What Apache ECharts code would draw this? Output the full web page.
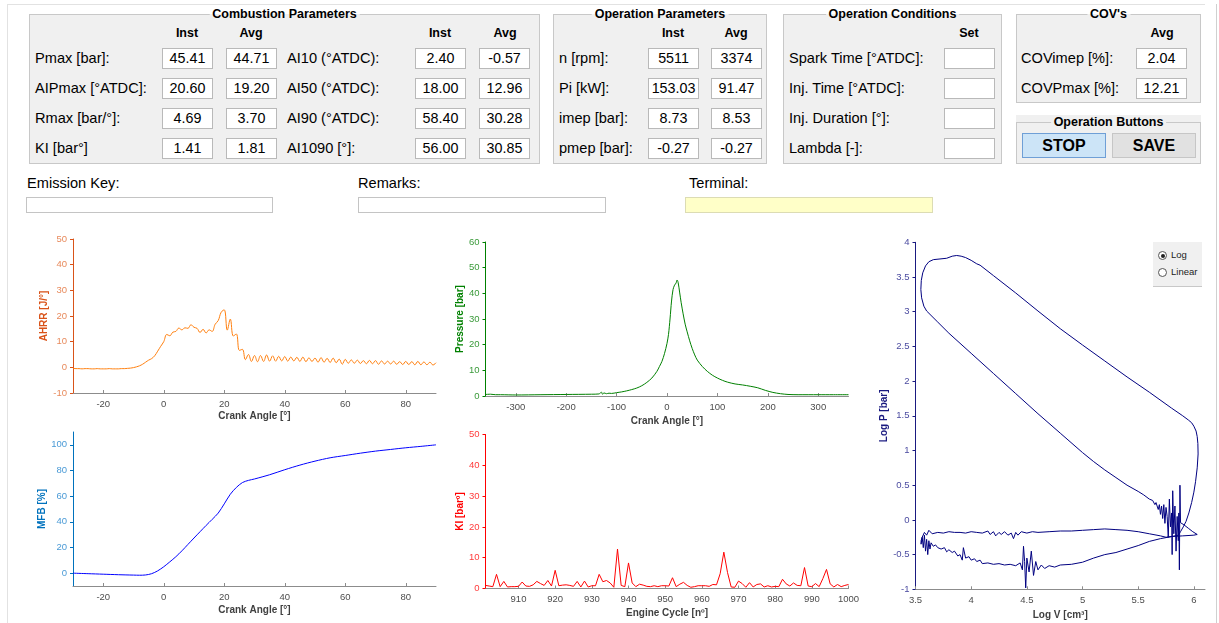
<!DOCTYPE html>
<html>
<head>
<meta charset="utf-8">
<title>Engine Monitor</title>
<script src="https://cdn.jsdelivr.net/npm/echarts@6/dist/echarts.min.js"></script>
<style>
body { margin: 0; width: 1219px; height: 623px; background: #fff; overflow: hidden; position: relative;
  font-family: "Liberation Sans", Arial, sans-serif; color: #000; }
.line { position: absolute; background: #e2e2e2; }
.panel { position: absolute; background: #f0f0f0; border: 1px solid #c8c8c8; box-sizing: border-box; }
.ptitle { position: absolute; font-weight: bold; font-size: 12.5px; line-height: 14px; padding: 0 3px;
  transform: translateX(-50%); background: linear-gradient(#fff 50%, #f0f0f0 50%); white-space: nowrap; }
.lbl { position: absolute; font-size: 14.6px; line-height: 20px; white-space: nowrap; }
.hdr { position: absolute; font-weight: bold; font-size: 12.5px; line-height: 16px; transform: translateX(-50%); }
.box { position: absolute; width: 51px; height: 21px; background: #fff; border: 1px solid #b9b9b9; box-sizing: border-box;
  font-size: 14.3px; line-height: 19px; text-align: center; }
.field { position: absolute; height: 16px; background: #fff; border: 1px solid #c4c4c4; box-sizing: border-box; }
.btn { position: absolute; height: 25px; box-sizing: border-box; font-weight: bold; font-size: 16px; line-height: 23px; text-align: center; }
#plots { position: absolute; left: 0; top: 225px; width: 1219px; height: 398px; }
#scaleBox { position: absolute; left: 1153px; top: 242px; width: 49px; height: 45px; background: #f0f0f0;
  border-bottom: 1px solid #c8c8c8; box-sizing: border-box; font-size: 9.5px; z-index: 5; }
.radio { position: absolute; left: 5px; width: 9px; height: 9px; border: 1px solid #555; border-radius: 50%; background: #fff; box-sizing: border-box; }
.radio.on::after { content: ""; position: absolute; left: 1.5px; top: 1.5px; width: 4px; height: 4px; border-radius: 50%; background: #222; }
.rtext { position: absolute; left: 18px; line-height: 12px; color: #222; }
</style>
</head>
<body>
<div class="line" style="left:7px; top:4px; width:1198px; height:1px;"></div>
<div class="line" style="left:7px; top:4px; width:1px; height:619px;"></div>
<div class="line" style="left:1216px; top:4px; width:1px; height:619px; background:#d0d0d0;"></div>
<div id="plots"></div>
<div id="scaleBox">
  <div class="radio on" style="top:9px;"></div><div class="rtext" style="top:7px;">Log</div>
  <div class="radio" style="top:26px;"></div><div class="rtext" style="top:24px;">Linear</div>
</div>
<script>
// ---- panel text ----
const rowY = [58, 88, 118, 148]
const combLabels1 = ['Pmax [bar]:', 'AIPmax [°ATDC]:', 'Rmax [bar/°]:', 'KI [bar°]']
const combInst1 = ['45.41', '20.60', '4.69', '1.41']
const combAvg1 = ['44.71', '19.20', '3.70', '1.81']
const combLabels2 = ['AI10 (°ATDC):', 'AI50 (°ATDC):', 'AI90 (°ATDC):', 'AI1090 [°]:']
const combInst2 = ['2.40', '18.00', '58.40', '56.00']
const combAvg2 = ['-0.57', '12.96', '30.28', '30.85']
const opLabels = ['n [rpm]:', 'Pi [kW]:', 'imep [bar]:', 'pmep [bar]:']
const opInst = ['5511', '153.03', '8.73', '-0.27']
const opAvg = ['3374', '91.47', '8.53', '-0.27']
const condLabels = ['Spark Time [°ATDC]:', 'Inj. Time [°ATDC]:', 'Inj. Duration [°]:', 'Lambda [-]:']
const covLabels = ['COVimep [%]:', 'COVPmax [%]:']
const covAvg = ['2.04', '12.21']

// ---- chart data ----
// AHRR sampled every 1° from -30 to 90
const ahrrAngle = Array.from({ length: 121 }, (_, i) => i - 30)
const ahrrValue = [
  -0.4, -0.5, -0.5, -0.6, -0.5, -0.5, -0.6, -0.6, -0.5, -0.6, -0.6, -0.6, -0.5, -0.6, -0.6, -0.6, -0.5, -0.5, -0.4, -0.3,
  -0.1, 0.2, 0.6, 1.2, 2.0, 2.8, 3.4, 4.5, 6.3, 8.2,
  10.0, 12.8, 12.3, 13.7, 14.0, 15.3, 14.6, 15.4, 15.2, 16.6,
  15.6, 15.2, 13.6, 14.8, 13.4, 14.6, 14.0, 16.8, 18.2, 21.5,
  22.4, 14.5, 18.8, 12.2, 13.0, 6.6, 7.0, 3.0, 5.0, 2.3,
  4.6, 2.2, 4.6, 2.3, 4.8, 2.4, 4.5, 2.4, 4.3, 2.5,
  4.2, 2.4, 4.0, 2.5, 3.9, 2.3, 4.0, 2.2, 3.7, 2.3,
  3.6, 2.0, 3.8, 2.0, 3.5, 1.9, 3.6, 1.8, 3.2, 1.2,
  3.1, 1.6, 2.9, 1.6, 2.8, 1.5, 2.6, 1.4, 2.7, 1.4,
  2.6, 1.2, 2.5, 1.3, 2.4, 1.3, 2.4, 1.2, 2.2, 1.1,
  2.3, 1.1, 2.2, 1.0, 2.3, 1.0, 2.1, 1.0, 2.0, 0.9,
  1.8
]
const mfbAngle = [-30, -25, -20, -15, -10, -8, -6, -4, -2, 0, 2, 4, 6, 8, 10, 12, 14, 16, 18, 20, 22, 24, 26, 28, 30,
  35, 40, 45, 50, 55, 60, 65, 70, 75, 80, 85, 90]
const mfbValue = [0, -0.4, -0.8, -1.2, -1.5, -1.6, -1.4, -0.4, 1.8, 5.0, 8.8, 12.8, 17.4, 22.4, 27.4, 32.3, 37.2, 41.9, 46.8,
  54.0, 61.5, 66.8, 70.6, 72.3, 73.4, 76.7, 80.6, 84.2, 87.3, 89.9, 91.7, 93.5, 95.1, 96.4, 97.7, 98.8, 100]
const pressAngle = [-360, -350, -340, -330, -300, -250, -200, -150, -135, -130, -128, -125, -120, -115, -110, -100, -90, -80,
  -70, -60, -50, -40, -30, -20, -15, -10, -5, 0, 3, 6, 9, 12, 15, 18, 20, 22, 25, 28, 32, 36, 40, 45, 50, 55, 60, 70, 80,
  90, 100, 110, 120, 135, 150, 165, 180, 195, 210, 225, 240, 260, 300, 330, 360]
const pressValue = [0.6, 0.7, 0.5, 0.5, 0.4, 0.5, 0.6, 0.7, 0.8, 1.5, 0.7, 1.2, 0.9, 1.1, 1.0, 1.3, 1.6, 2.0,
  2.5, 3.1, 4.0, 5.3, 7.0, 9.6, 11.5, 13.5, 16.5, 20.5, 24.0, 30.0, 37.0, 41.5, 43.2, 44.0, 45.2, 44.3, 40.5, 36.5, 32.0, 28.0,
  25.0, 21.5, 18.5, 16.0, 14.0, 11.5, 9.6, 8.1, 7.0, 6.1, 5.4, 4.7, 4.3, 3.8, 3.2, 2.2, 1.4, 0.9, 0.6, 0.5, 0.5, 0.5, 0.5]
// knock intensity per engine cycle 901..1000
const kiCycle = Array.from({ length: 100 }, (_, i) => 901 + i)
const kiValue = [
  1.0, 0.8, 0.6, 4.6, 0.6, 2.3, 0.5, 0.6, 0.6, 0.7,
  2.1, 0.8, 0.7, 1.2, 2.3, 1.6, 1.0, 2.6, 0.8, 5.9,
  0.9, 1.1, 1.2, 1.0, 0.7, 2.3, 0.5, 2.4, 0.5, 0.9,
  0.9, 4.6, 2.2, 2.6, 1.8, 0.4, 12.8, 1.0, 0.6, 8.3,
  1.8, 0.6, 1.4, 1.1, 0.7, 0.6, 0.9, 0.6, 0.9, 0.9,
  0.8, 3.5, 0.6, 1.4, 2.0, 1.0, 0.4, 0.6, 0.9, 0.9,
  0.9, 0.7, 1.3, 1.2, 4.8, 11.8, 5.2, 0.5, 0.4, 2.4,
  1.6, 0.4, 1.9, 0.5, 1.3, 1.5, 0.5, 0.9, 0.5, 0.7,
  0.6, 3.0, 1.5, 0.8, 1.8, 1.0, 0.9, 6.8, 0.8, 0.6,
  1.6, 0.6, 3.2, 6.2, 1.5, 0.5, 1.3, 0.6, 1.0, 1.3
]
// log P - log V loop: compression, combustion, expansion, blowdown, exhaust, intake
const logV = [
  6.03, 5.99, 5.95, 5.91, 5.88,
  5.875, 5.87, 5.865, 5.86, 5.85, 5.84, 5.83, 5.82, 5.81, 5.805, 5.8, 5.79, 5.78, 5.77, 5.76, 5.75, 5.74, 5.73, 5.72, 5.71,
  5.7, 5.69, 5.68, 5.66, 5.65, 5.63,
  5.6, 5.55, 5.5, 5.4, 5.3, 5.2, 5.1, 5.0, 4.8, 4.6, 4.4, 4.2, 4.0, 3.8, 3.7, 3.6,
  3.575, 3.555, 3.548, 3.552, 3.565, 3.59, 3.62, 3.66, 3.72, 3.78, 3.83, 3.87, 3.91, 3.95, 4.0, 4.05, 4.08,
  4.2, 4.4, 4.6, 4.8, 5.0, 5.2, 5.4, 5.6, 5.8, 5.9, 5.95, 5.98, 6.0, 6.02, 6.03,
  6.036, 6.038, 6.03, 6.015, 6.0, 5.98, 5.955, 5.93, 5.905, 5.88, 5.86,
  5.8, 5.75, 5.7, 5.6, 5.5, 5.4, 5.3, 5.2, 5.1, 5.0, 4.9, 4.8, 4.7, 4.6, 4.55, 4.5, 4.45, 4.42, 4.4, 4.38, 4.36, 4.33,
  4.3, 4.27, 4.25, 4.22, 4.2, 4.17, 4.15, 4.1, 4.05, 4.0, 3.95, 3.9, 3.85, 3.8, 3.75, 3.7, 3.65, 3.62, 3.6, 3.58, 3.56,
  3.55, 3.55,
  3.56, 3.57, 3.58, 3.59, 3.6, 3.61, 3.62, 3.63, 3.64, 3.66, 3.68, 3.7, 3.73, 3.76, 3.78, 3.8, 3.83, 3.85, 3.88, 3.9,
  3.92, 3.93, 3.95, 3.98, 4.0, 4.03, 4.05, 4.08, 4.1, 4.15, 4.2, 4.25, 4.3, 4.35, 4.4, 4.44, 4.46, 4.47, 4.48, 4.49,
  4.5, 4.52, 4.54, 4.56, 4.58, 4.6, 4.63, 4.66, 4.7, 4.75, 4.8, 4.9, 5.0, 5.1, 5.2, 5.3, 5.4, 5.5, 5.6, 5.7, 5.8, 5.9,
  6.0, 6.03
]
const logP = [
  -0.21, -0.17, -0.12, -0.07, -0.04,
  0.5, -0.72, 0.1, -0.3, 0.05, -0.45, 0.2, -0.2, 0.42, -0.5, 0.1, -0.1, 0.3, -0.25, 0.05, 0.18, -0.05, 0.22, 0.02, 0.2,
  0.08, 0.22, 0.15, 0.25, 0.22, 0.28,
  0.3, 0.36, 0.41, 0.5, 0.61, 0.72, 0.84, 0.97, 1.25, 1.53, 1.82, 2.11, 2.4, 2.69, 2.85, 3.01,
  3.08, 3.2, 3.32, 3.45, 3.56, 3.66, 3.72, 3.75, 3.76, 3.77, 3.8, 3.81, 3.8, 3.78, 3.74, 3.69, 3.67,
  3.52, 3.27, 3.01, 2.755, 2.52, 2.29, 2.06, 1.84, 1.61, 1.5, 1.44, 1.4, 1.35, 1.28, 1.2,
  1.1, 0.95, 0.75, 0.55, 0.4, 0.25, 0.1, -0.02, -0.1, -0.17, -0.22,
  -0.24, -0.25, -0.23, -0.2, -0.17, -0.15, -0.14, -0.13, -0.14, -0.15, -0.16, -0.16, -0.17, -0.18, -0.17, -0.19, -0.17,
  -0.22, -0.18, -0.27, -0.19, -0.22,
  -0.17, -0.21, -0.18, -0.23, -0.17, -0.21, -0.16, -0.19, -0.18, -0.17, -0.19, -0.18, -0.18, -0.17, -0.19, -0.18, -0.2,
  -0.15, -0.22, -0.18, -0.25,
  -0.3, -0.35,
  -0.25, -0.4, -0.22, -0.45, -0.28, -0.5, -0.3, -0.42, -0.33, -0.38, -0.36, -0.4, -0.42, -0.4, -0.46, -0.43, -0.47, -0.45,
  -0.52, -0.5,
  -0.58, -0.4, -0.55, -0.53, -0.58, -0.56, -0.6, -0.58, -0.63, -0.62, -0.64, -0.63, -0.65, -0.64, -0.66, -0.62, -0.72,
  -0.38, -0.6, -0.98,
  -0.55, -0.75, -0.45, -0.8, -0.6, -0.72, -0.65, -0.7, -0.66, -0.68, -0.65, -0.64, -0.61, -0.55, -0.5, -0.47, -0.42,
  -0.37, -0.31, -0.27, -0.24, -0.23,
  -0.22, -0.21
]

// ---- build the panels ----
function put(cls, x, y, text, style) {
  const d = document.createElement('div')
  d.className = cls
  d.style.left = x + 'px'
  d.style.top = y + 'px'
  if (style) Object.assign(d.style, style)
  if (text != null) d.textContent = text
  document.body.appendChild(d)
  return d
}
function panel(x1, y1, x2, y2, title) {
  put('panel', x1, y1, null, { width: (x2 - x1) + 'px', height: (y2 - y1) + 'px' })
  put('ptitle', (x1 + x2) / 2, y1 - 7, title)
}

panel(29, 14, 540, 164, 'Combustion Parameters')
panel(553, 14, 767, 164, 'Operation Parameters')
panel(783, 14, 1002, 164, 'Operation Conditions')
panel(1016, 14, 1201, 103, "COV's")
// the buttons panel has its title inside the grey area
put('panel', 1016, 115, null, { width: '185px', height: '49px', border: 'none' })
put('panel', 1016, 122, null, { width: '185px', height: '42px' })
put('ptitle', 1108.5, 115, 'Operation Buttons', { background: '#f0f0f0' })

put('hdr', 187, 25, 'Inst'); put('hdr', 251, 25, 'Avg')
put('hdr', 440, 25, 'Inst'); put('hdr', 505, 25, 'Avg')
put('hdr', 673, 25, 'Inst'); put('hdr', 736, 25, 'Avg')
put('hdr', 969, 25, 'Set')
put('hdr', 1162, 25, 'Avg')

rowY.forEach((y, i) => {
  put('lbl', 35, y - 10, combLabels1[i])
  put('box', 162, y - 10, combInst1[i])
  put('box', 226, y - 10, combAvg1[i])
  put('lbl', 287, y - 10, combLabels2[i])
  put('box', 415, y - 10, combInst2[i])
  put('box', 479, y - 10, combAvg2[i])
  put('lbl', 559, y - 10, opLabels[i])
  put('box', 648, y - 10, opInst[i])
  put('box', 711, y - 10, opAvg[i])
  put('lbl', 789, y - 10, condLabels[i])
  put('box', 944, y - 10, '')
  if (i < 2) {
    put('lbl', 1021, y - 10, covLabels[i])
    put('box', 1136, y - 10, covAvg[i])
  }
})

put('btn', 1022, 133, 'STOP', { width: '84px', background: '#cce4f7', border: '1px solid #6f9fd6' })
put('btn', 1112, 133, 'SAVE', { width: '84px', background: '#e1e1e1', border: '1px solid #c6c6c6' })

put('lbl', 27, 173, 'Emission Key:')
put('lbl', 358, 173, 'Remarks:')
put('lbl', 689, 173, 'Terminal:')
put('field', 26, 197, null, { width: '247px' })
put('field', 358, 197, null, { width: '248px' })
put('field', 685, 197, null, { width: '248px', background: '#ffffc8', borderColor: '#dcdcb4' })

// ---- charts ----
const grids = [
  { left: 73, top: 14, width: 363, height: 154 },
  { left: 73, top: 207, width: 363, height: 154 },
  { left: 485.5, top: 17, width: 363, height: 154 },
  { left: 485.5, top: 209.5, width: 363, height: 154 },
  { left: 915.5, top: 17.3, width: 289.5, height: 347 }
]
grids.forEach(g => { g.containLabel = false; g.outerBoundsMode = 'none' })

function xAxis(gi, min, max, ticks, name, gap) {
  return {
    gridIndex: gi, type: 'value', min: min, max: max,
    name: name, nameLocation: 'middle', nameGap: gap,
    nameTextStyle: { color: '#404040', fontWeight: 'bold', fontSize: 10 },
    axisLine: { show: true, onZero: false, lineStyle: { color: '#8c8c8c', width: 1 } },
    axisTick: { show: true, inside: true, length: 3, customValues: ticks, lineStyle: { color: '#8c8c8c' } },
    axisLabel: { color: '#4d4d4d', fontSize: 9.5, margin: 6, customValues: ticks, formatter: v => String(v) },
    splitLine: { show: false }
  }
}
function yAxis(gi, min, max, interval, ticks, name, gap, lineColor, labelColor) {
  const ax = {
    gridIndex: gi, type: 'value', min: min, max: max,
    name: name, nameLocation: 'middle', nameGap: gap, nameRotate: 90,
    nameTextStyle: { color: lineColor, fontWeight: 'bold', fontSize: 10 },
    axisLine: { show: true, onZero: false, lineStyle: { color: lineColor, width: 1 } },
    axisTick: { show: true, length: 3, lineStyle: { color: lineColor } },
    axisLabel: { color: labelColor, fontSize: 9.5, margin: 6 },
    splitLine: { show: false }
  }
  if (interval) ax.interval = interval
  if (ticks) { ax.axisTick.customValues = ticks; ax.axisLabel.customValues = ticks }
  return ax
}
function pairs(xs, ys) { return xs.map((x, i) => [x, ys[i]]) }

const chart = echarts.init(document.getElementById('plots'))
chart.setOption({
  animation: false,
  textStyle: { fontFamily: 'Liberation Sans, Arial, sans-serif' },
  grid: grids,
  xAxis: [
    xAxis(0, -30, 90, [-20, 0, 20, 40, 60, 80], 'Crank Angle [°]', 18),
    xAxis(1, -30, 90, [-20, 0, 20, 40, 60, 80], 'Crank Angle [°]', 19),
    xAxis(2, -360, 360, [-300, -200, -100, 0, 100, 200, 300], 'Crank Angle [°]', 20),
    xAxis(3, 901, 1000, [910, 920, 930, 940, 950, 960, 970, 980, 990, 1000], 'Engine Cycle [nº]', 20),
    xAxis(4, 3.5, 6.1, [3.5, 4, 4.5, 5, 5.5, 6], 'Log V [cm³]', 20)
  ],
  yAxis: [
    yAxis(0, -10, 50, 10, null, 'AHRR [J/°]', 17, '#d95319', '#e88a5c'),
    yAxis(1, -10, 110, null, [0, 20, 40, 60, 80, 100], 'MFB [%]', 19, '#0072bd', '#4a9ad6'),
    yAxis(2, 0, 60, 10, null, 'Pressure [bar]', 15, '#008000', '#3a9a3a'),
    yAxis(3, 0, 50, 10, null, 'KI [barº]', 15, '#ff0000', '#ff3b3b'),
    yAxis(4, -1, 4, 0.5, null, 'Log P [bar]', 20, '#1a1a80', '#4b4ba0')
  ],
  series: [
    { type: 'line', xAxisIndex: 0, yAxisIndex: 0, data: pairs(ahrrAngle, ahrrValue), symbol: 'none', smooth: 0.4,
      lineStyle: { color: '#ff7f0e', width: 1 } },
    { type: 'line', xAxisIndex: 1, yAxisIndex: 1, data: pairs(mfbAngle, mfbValue), symbol: 'none', smooth: 0.3,
      lineStyle: { color: '#0000ff', width: 1 } },
    { type: 'line', xAxisIndex: 2, yAxisIndex: 2, data: pairs(pressAngle, pressValue), symbol: 'none', smooth: 0.3,
      lineStyle: { color: '#008000', width: 1 } },
    { type: 'line', xAxisIndex: 3, yAxisIndex: 3, data: pairs(kiCycle, kiValue), symbol: 'none',
      lineStyle: { color: '#ff0000', width: 1 } },
    { type: 'line', xAxisIndex: 4, yAxisIndex: 4, data: pairs(logV, logP), symbol: 'none',
      lineStyle: { color: '#000080', width: 1 } }
  ]
})
</script>
</body>
</html>
